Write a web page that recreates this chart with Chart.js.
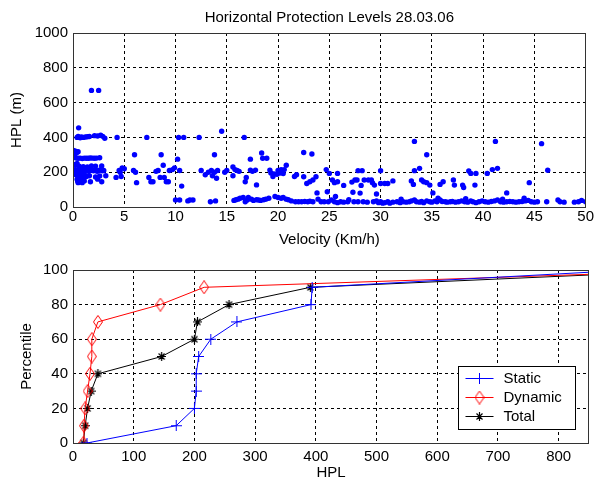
<!DOCTYPE html>
<html>
<head>
<meta charset="utf-8">
<script src="https://cdn.jsdelivr.net/npm/chart.js@4.4.1/dist/chart.umd.min.js"></script>
<style>
  html, body { margin: 0; padding: 0; background: #fff; }
  #wrap { position: relative; width: 595px; height: 487px; }
  canvas { position: absolute; left: 0; }
  #scatter { top: 0; }
  #cdf { top: 250px; }
</style>
</head>
<body>
<div id="wrap">
  <canvas id="scatter" width="595" height="250"></canvas>
  <canvas id="cdf" width="595" height="237"></canvas>
</div>
<script>
// top plot: HPL against velocity
const velocity = [
  0.4, 0.5, 0.6, 0.7, 0.8, 0.9, 1.0, 1.2, 1.4, 1.6, 2.1, 2.4, 2.7, 2.9, 3.1,
  0.55, 1.8, 2.5,
  0.05, 0.1, 0.25, 0.35, 0.5, 0.15,
  0.3, 0.5, 0.7, 0.9, 1.1, 1.3, 1.5, 1.7, 1.9, 2.1, 2.3, 2.6,
  0.1, 0.2, 0.6, 1.0, 1.4, 1.8, 2.2, 2.8, 0.4,
  0.05, 0.15, 0.25, 0.35, 0.45, 0.55, 0.65, 0.75, 0.85, 0.95, 1.05, 1.2, 1.35, 1.5, 1.65, 1.8, 2.0, 2.2, 2.35, 2.5, 2.7, 2.85, 3.0,
  0.2, 0.3, 0.5, 0.6, 0.7, 0.9, 1.1, 1.3, 1.6, 2.2, 2.6, 3.2,
  0.4, 0.45, 0.5, 0.6, 0.65, 0.7, 0.8, 0.9, 1.0, 1.1, 1.7, 2.4, 2.8,
  4.2, 4.3, 4.5, 4.6, 4.7, 4.8, 5.0, 5.9, 6.0, 6.1, 6.2, 7.2, 7.4, 7.6, 7.8, 8.1, 8.3, 8.5, 8.6, 8.8, 8.9, 9.1, 9.3, 9.4, 9.7, 9.9,
  10.0, 10.4, 10.2, 10.3, 10.4, 10.6, 10.8, 11.2, 11.4, 11.7, 12.3, 12.5, 12.9, 13.2, 13.4, 13.5, 13.6, 13.8, 13.9, 13.8, 14.0, 14.1, 14.5, 14.8, 15.0,
  15.6, 15.8, 16.0, 16.2, 15.6, 16.7, 16.8, 17.3, 17.5, 17.3, 17.8, 17.9, 16.9, 18.4, 18.5, 18.9, 19.2, 19.3, 19.5, 19.6, 19.9, 20.0, 20.2, 20.3, 20.5, 20.6, 20.8, 21.6, 21.8,
  22.5, 23.3, 22.5, 22.8, 23.1, 23.4, 23.7, 23.8, 24.7, 25.0, 25.8, 25.3, 25.5, 25.8, 26.4, 27.2, 27.5, 27.7, 27.8, 28.2, 28.1, 28.4, 28.8, 29.1, 29.2, 29.4, 30.0, 30.0, 30.4, 30.7, 31.2,
  33.0, 33.2, 33.3, 33.8, 34.0, 34.2, 34.5, 34.8, 33.3, 34.5, 35.1, 35.8, 36.1, 37.1, 37.2, 38.0, 38.1, 38.6, 38.8, 39.3, 39.2, 40.4, 40.9, 41.4, 41.2, 42.3, 44.5, 45.7, 46.3,
  25.6, 27.3, 28.0, 29.6, 24.8,
  15.7, 15.9, 16.1, 16.3, 16.6, 16.8, 17.0, 17.1, 17.4, 17.6, 17.9, 18.1, 18.3, 18.6, 18.8, 19.1, 19.7, 20.0, 20.3, 20.5, 20.8, 21.0, 21.3, 21.7, 22.0, 22.3, 22.6, 22.9, 23.1, 23.4, 24.2, 24.5, 24.9, 25.2, 25.5, 25.8, 26.1, 26.4, 26.8, 27.4, 27.8, 28.3, 28.7, 29.3, 29.6, 29.8,
  30.0, 30.2, 30.4, 30.7, 30.9, 31.2, 31.6, 31.9, 32.2, 32.5, 32.8, 33.0, 33.3, 33.5, 33.8, 34.0, 34.2, 34.5, 34.8, 35.0, 35.3, 35.5, 35.8, 36.0, 36.3, 36.5, 36.8, 37.0, 37.3, 37.6, 37.9, 38.2, 38.5, 38.8, 39.0, 39.3, 39.6, 39.9, 40.2, 40.5, 40.8, 41.1, 41.4, 41.7, 42.0, 42.3, 42.6, 42.9, 43.2, 43.5, 43.8, 44.1, 44.4, 44.7, 45.0, 45.3, 46.2, 47.3, 47.5, 47.9, 48.9, 49.3, 49.6, 50.0,
  32.0, 35.6, 38.3, 41.9, 44.0, 26.9, 23.9
];
const hpl = [
  400, 405, 400, 398, 402, 400, 400, 402, 404, 405, 410, 408, 412, 406, 395,
  455, 670, 670,
  325, 300, 320, 312, 318, 290,
  282, 280, 281, 279, 281, 280, 280, 282, 281, 280, 281, 283,
  245, 240, 235, 232, 230, 236, 235, 236, 250,
  210, 205, 215, 200, 212, 208, 218, 205, 210, 200, 215, 208, 212, 205, 210, 215, 208, 212, 205, 210, 215, 208, 210,
  190, 185, 180, 175, 185, 178, 190, 175, 180, 172, 178, 180,
  160, 150, 140, 155, 145, 165, 150, 140, 160, 150, 145, 160, 145,
  170, 400, 210, 200, 175, 225, 220, 210, 300, 200, 140, 400, 170, 145, 145, 205, 210, 170, 300, 240, 170, 145, 145, 210, 215, 225,
  40, 40, 275, 400, 210, 120, 400, 35, 40, 40, 400, 210, 185, 200, 30, 210, 180, 300, 35, 200, 165, 210, 435, 200, 210,
  230, 215, 210, 205, 180, 400, 145, 275, 205, 212, 212, 127, 170, 310, 280, 280, 212, 195, 175, 190, 188, 210, 195, 214, 192, 215, 240, 175, 185,
  313, 305, 174, 135, 145, 155, 174, 81, 215, 193, 193, 155, 140, 145, 124, 143, 155, 155, 209, 209, 124, 155, 155, 155, 140, 126, 209, 135, 135, 135, 150,
  150, 130, 209, 222, 155, 145, 140, 126, 377, 300, 81, 130, 145, 155, 126, 126, 112, 207, 193, 193, 126, 193, 215, 222, 377, 81, 140, 364, 211,
  60, 85, 80, 75, 88,
  38, 42, 45, 50, 55, 30, 40, 55, 45, 38, 42, 40, 38, 42, 45, 50, 60, 55, 50, 55, 45, 42, 35, 30, 30, 30, 32, 30, 33, 30, 30, 30, 30, 40, 30, 25, 30, 28, 30, 30, 30, 30, 28, 30, 35, 25,
  30, 22, 25, 30, 22, 28, 30, 25, 30, 28, 30, 35, 40, 30, 28, 32, 25, 35, 30, 28, 35, 30, 40, 32, 30, 28, 30, 32, 28, 30, 35, 30, 28, 35, 30, 25, 30, 35, 30, 28, 32, 35, 40, 30, 28, 30, 32, 30, 28, 30, 32, 35, 38, 30, 28, 30, 30, 40, 30, 28, 28, 30, 38, 30,
  45, 50, 48, 45, 50, 42, 45
];

// bottom plot: percentile curves (last point lies past the right edge)
const percentile = [0, 10, 20, 30, 40, 50, 60, 70, 80, 90, 100];
const staticHpl  = [23, 170, 200, 203, 203, 207, 227, 270, 392, 394, 918];
const dynamicHpl = [17, 18, 20, 24, 28, 31, 31, 41, 144, 216, 1060];
const totalHpl   = [17, 20, 24, 30, 41, 146, 200, 205, 257, 391, 1037];

const titleText = 'Horizontal Protection Levels 28.03.06';
const FONT = '"Liberation Sans", Arial, Helvetica, sans-serif';

Chart.defaults.font.family = FONT;
Chart.defaults.font.size = 15;
Chart.defaults.color = '#000';

function marker(w, h, color, lw, draw) {
  const c = document.createElement('canvas');
  c.width = w;
  c.height = h;
  const g = c.getContext('2d');
  g.strokeStyle = color;
  g.lineWidth = lw;
  g.beginPath();
  draw(g);
  g.stroke();
  return c;
}

const plusMark = marker(11, 11, '#0000ff', 1, g => {
  g.moveTo(0, 5.5); g.lineTo(11, 5.5);
  g.moveTo(5.5, 0); g.lineTo(5.5, 11);
});
const diamondMark = marker(10, 14, '#ff0000', 1, g => {
  g.moveTo(5, 0.5); g.lineTo(9.5, 7); g.lineTo(5, 13.5); g.lineTo(0.5, 7); g.closePath();
});
const starMark = marker(9, 9, '#000000', 1.2, g => {
  g.moveTo(0, 4.5); g.lineTo(9, 4.5);
  g.moveTo(4.5, 0); g.lineTo(4.5, 9);
  g.moveTo(1.5, 1.5); g.lineTo(7.5, 7.5);
  g.moveTo(7.5, 1.5); g.lineTo(1.5, 7.5);
});

// box round the plot, like the matlab axes
const frame = {
  id: 'frame',
  afterDraw(chart) {
    const { ctx, chartArea: a } = chart;
    ctx.save();
    ctx.strokeStyle = '#333';
    ctx.lineWidth = 1;
    ctx.strokeRect(Math.round(a.left) + 0.5, Math.round(a.top) + 0.5,
      Math.round(a.right - a.left) - 1, Math.round(a.bottom - a.top));
    ctx.restore();
  }
};

const plotTitle = {
  id: 'plotTitle',
  afterDraw(chart, args, opts) {
    if (!opts.text) return;
    const { ctx, chartArea: a } = chart;
    ctx.save();
    ctx.font = '15px ' + FONT;
    ctx.fillStyle = '#000';
    ctx.textAlign = 'center';
    ctx.textBaseline = 'middle';
    ctx.fillText(opts.text, (a.left + a.right) / 2, opts.y);
    ctx.restore();
  }
};

const boxLegend = {
  id: 'boxLegend',
  afterDraw(chart) {
    const { ctx, chartArea: a } = chart;
    const w = 117, h = 63;
    const x0 = Math.round(a.right - 14 - w) + 0.5;
    const y0 = Math.round(a.bottom - 14 - h) + 0.5;
    ctx.save();
    ctx.fillStyle = '#fff';
    ctx.fillRect(x0, y0, w, h);
    ctx.strokeStyle = '#000';
    ctx.lineWidth = 1;
    ctx.strokeRect(x0, y0, w, h);
    ctx.font = '15px ' + FONT;
    ctx.textBaseline = 'middle';
    chart.data.datasets.forEach((ds, i) => {
      const y = Math.round(y0 + 11 + i * 19) + 0.5;
      ctx.strokeStyle = ds.borderColor;
      ctx.beginPath();
      ctx.moveTo(x0 + 7, y);
      ctx.lineTo(x0 + 35, y);
      ctx.stroke();
      const m = ds.pointStyle;
      ctx.drawImage(m, x0 + 21 - m.width / 2, y - m.height / 2);
      ctx.fillStyle = '#000';
      ctx.fillText(ds.label, x0 + 45, y);
    });
    ctx.restore();
  }
};

const dashedGrid = {
  color: '#000',
  lineWidth: 1,
  drawTicks: false
};

// plain numbers, no thousands separator
const plain = v => String(v);

new Chart(document.getElementById('scatter').getContext('2d'), {
  type: 'scatter',
  data: {
    datasets: [{
      data: velocity.map((v, i) => ({ x: v, y: hpl[i] })),
      backgroundColor: '#0000ff',
      borderWidth: 0,
      pointRadius: 2.7
    }]
  },
  options: {
    responsive: false,
    animation: false,
    events: [],
    layout: { padding: { top: 33, right: 7, left: 0, bottom: 0 } },
    plugins: {
      legend: { display: false },
      tooltip: { enabled: false },
      plotTitle: { text: titleText, y: 17.5 }
    },
    scales: {
      x: {
        type: 'linear', min: 0, max: 50,
        ticks: { stepSize: 5, padding: 1, maxRotation: 0, autoSkip: false, callback: plain },
        grid: dashedGrid,
        border: { display: false, dash: [3, 3] },
        title: { display: true, text: 'Velocity (Km/h)', padding: { top: 0, bottom: 1 } },
        afterFit(s) { s.height = 43; }
      },
      y: {
        min: 0, max: 1000,
        ticks: { stepSize: 200, padding: 5, callback: plain },
        grid: dashedGrid,
        border: { display: false, dash: [3, 3] },
        title: { display: true, text: 'HPL (m)', padding: { top: 8, bottom: 0 } },
        afterFit(s) { s.width = 73; }
      }
    }
  },
  plugins: [frame, plotTitle]
});

function curve(label, xs, color, mark) {
  return {
    label: label,
    data: xs.map((x, i) => ({ x: x, y: percentile[i] })),
    borderColor: color,
    backgroundColor: color,
    borderWidth: 1,
    pointStyle: mark,
    pointRadius: 4,
    tension: 0
  };
}

new Chart(document.getElementById('cdf').getContext('2d'), {
  type: 'line',
  data: {
    datasets: [
      curve('Static', staticHpl, '#0000ff', plusMark),
      curve('Dynamic', dynamicHpl, '#ff0000', diamondMark),
      curve('Total', totalHpl, '#000000', starMark)
    ]
  },
  options: {
    responsive: false,
    animation: false,
    events: [],
    layout: { padding: { top: 20, right: 6, left: 0, bottom: 0 } },
    plugins: {
      legend: { display: false },
      tooltip: { enabled: false }
    },
    scales: {
      x: {
        type: 'linear', min: 0, max: 850,
        ticks: { stepSize: 100, padding: 5, maxRotation: 0, autoSkip: false, includeBounds: false, callback: plain },
        grid: dashedGrid,
        border: { display: false, dash: [3, 3] },
        title: { display: true, text: 'HPL', padding: { top: 0, bottom: 5 } },
        afterFit(s) { s.height = 44; }
      },
      y: {
        type: 'linear', min: 0, max: 100,
        ticks: { stepSize: 20, padding: 5, callback: plain },
        grid: dashedGrid,
        border: { display: false, dash: [3, 3] },
        title: { display: true, text: 'Percentile', padding: { top: 18, bottom: 0 } },
        afterFit(s) { s.width = 73; }
      }
    }
  },
  plugins: [frame, boxLegend]
});
</script>
</body>
</html>
